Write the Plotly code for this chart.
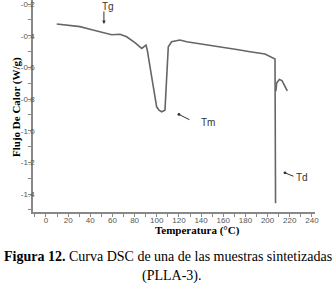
import plotly.graph_objects as go

# DSC curve
temperatura = [9.7, 30.7, 39.7, 51.7, 56.3, 59.3, 66.8, 72.8, 80.3, 86.4, 90.3, 91.4,
               93.5, 95.4, 98.0, 99.9, 102.0, 104.4, 107.4, 110.4, 113.4, 120.9, 127.0,
               139.0, 151.0, 175.0, 184.1, 197.7, 206.7, 207.0, 206.9, 207.2,
               None, 207.5, 208.2, 210.6, 213.0, 217.8]
flujo = [-0.326, -0.343, -0.360, -0.379, -0.391, -0.394, -0.391, -0.407, -0.444, -0.480, -0.459, -0.490,
         -0.580, -0.669, -0.780, -0.849, -0.870, -0.880, -0.870, -0.470, -0.438, -0.427, -0.438,
         -0.450, -0.462, -0.490, -0.501, -0.516, -0.547, -1.220, -0.560, -1.457,
         None, -0.750, -0.699, -0.676, -0.683, -0.748]

x_ticks = list(range(0, 241, 20))
y_ticks = [-1.4, -1.2, -1.0, -0.8, -0.6, -0.4, -0.2]
y_ticktext = ["-1.4", "-1.2", "-1.0", "-0.8", "-0.6", "-0.4", "-0.2"]

W, H = 336, 299
ML, MR, MT, MB = 33, 21, 0, 87
PW, PH = W - ML - MR, H - MT - MB


def px(xp):
    return (xp - ML) / PW


def py(yp):
    return (PH + MT - yp) / PH


fig = go.Figure()
fig.add_trace(go.Scatter(x=temperatura, y=flujo, mode="lines",
                         line=dict(color="#666666", width=1.6),
                         connectgaps=False, hoverinfo="skip", showlegend=False))

tickfont = dict(family="Liberation Sans Narrow, Arial Narrow, Liberation Sans, Arial",
                size=8, color="#555555")

fig.update_xaxes(range=[-11.7, 242.8], tickvals=x_ticks, ticks="outside", ticklen=3,
                 tickcolor="#888888", tickwidth=1, showline=True, linecolor="#888888",
                 linewidth=1.5, showgrid=False, zeroline=False, tickfont=tickfont,
                 ticklabelstandoff=-3,
                 minor=dict(dtick=10, ticks="outside", ticklen=3, tickcolor="#888888"))
fig.update_yaxes(range=[-1.513, -0.1747], tickvals=y_ticks, ticktext=y_ticktext,
                 ticks="outside", ticklen=3, tickcolor="#888888", tickwidth=1,
                 showline=True, linecolor="#888888", linewidth=1.5, showgrid=False,
                 zeroline=False, tickfont=tickfont, ticklabelstandoff=-8,
                 ticklabeloverflow="allow",
                 minor=dict(dtick=0.1, ticks="outside", ticklen=3, tickcolor="#888888"))

annfont = dict(family="Liberation Sans, Arial", size=10, color="#333333")

# arrows
fig.add_annotation(x=52.3, y=-0.326, ax=0, ay=-14, text="", showarrow=True,
                   arrowhead=2, arrowsize=0.7, arrowwidth=1, arrowcolor="#333333")
fig.add_annotation(x=120.0, y=-0.897, ax=12, ay=6, text="", showarrow=True,
                   arrowhead=6, arrowsize=0.7, arrowwidth=1, arrowcolor="#333333")
fig.add_annotation(x=215.7, y=-1.266, ax=10, ay=4, text="", showarrow=True,
                   arrowhead=6, arrowsize=0.7, arrowwidth=1, arrowcolor="#333333")
# labels
fig.add_annotation(x=56.0, y=-0.213, text="Tg", showarrow=False, font=annfont)
fig.add_annotation(x=146.5, y=-0.949, text="Tm", showarrow=False, font=annfont)
fig.add_annotation(x=231.5, y=-1.296, text="Td", showarrow=False, font=annfont)

serif = "Liberation Serif, Times New Roman, serif"
fig.add_annotation(xref="paper", yref="paper", x=px(8), y=py(107.5), text="<b>Flujo De Calor (W/g)</b>",
                   textangle=-90, showarrow=False, font=dict(family=serif, size=11, color="black"))
fig.add_annotation(xref="paper", yref="paper", x=px(197), y=py(239), text="<b>Temperatura (°C)</b>",
                   showarrow=False, font=dict(family=serif, size=11, color="black"))
fig.add_annotation(xref="paper", yref="paper", x=px(168), y=py(266),
                   text="<b>Figura 12.</b> Curva DSC de una de las muestras sintetizadas",
                   showarrow=False, font=dict(family=serif, size=14, color="black"))
fig.add_annotation(xref="paper", yref="paper", x=px(172), y=py(286), text="(PLLA-3).",
                   showarrow=False, font=dict(family=serif, size=14, color="black"))

fig.update_layout(width=W, height=H, margin=dict(l=ML, r=MR, t=MT, b=MB),
                  paper_bgcolor="white", plot_bgcolor="white", showlegend=False)

fig.write_html("out.html", config={"displayModeBar": False},
               post_script="document.body.style.margin='0';document.body.style.overflow='hidden';")
